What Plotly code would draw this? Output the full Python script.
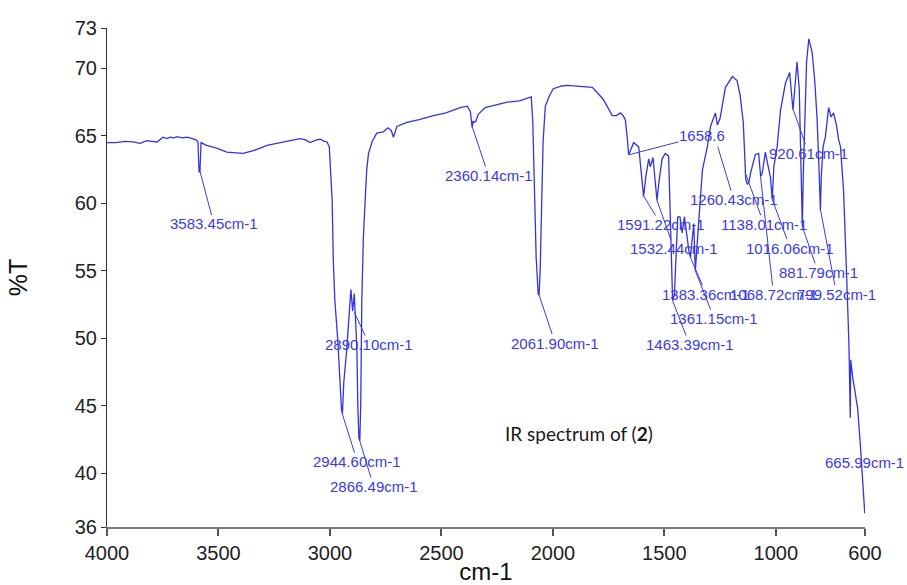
import plotly.graph_objects as go

# ---------------- data ----------------
wavenumber = [
    4000, 3960, 3920, 3883, 3852, 3821, 3800, 3776, 3749, 3730, 3717, 3700, 3686, 3663, 3640,
    3614, 3600, 3592, 3587, 3583, 3578, 3553, 3508, 3463, 3420, 3389, 3344, 3282, 3250, 3210,
    3170, 3134, 3110, 3089, 3060, 3044, 3025, 3013, 3003, 2997, 2990, 2985, 2978, 2965, 2955,
    2948, 2944, 2938, 2925, 2912, 2906, 2898, 2891, 2884, 2879, 2875, 2870, 2866, 2862, 2857,
    2850, 2842, 2835, 2827, 2810, 2790, 2760, 2740, 2725, 2715, 2700, 2655, 2600, 2535, 2480,
    2416, 2384, 2370, 2362, 2358, 2352, 2345, 2335, 2303, 2250, 2205, 2150, 2110, 2097, 2090,
    2083, 2075, 2066, 2062, 2057, 2050, 2044, 2034, 2015, 1998, 1960, 1935, 1880, 1823, 1800,
    1774, 1750, 1734, 1715, 1697, 1685, 1675, 1666, 1660, 1650, 1638, 1615, 1605, 1593, 1583,
    1570, 1563, 1551, 1542, 1533, 1525, 1510, 1496, 1481, 1475, 1468, 1463, 1455, 1448, 1440,
    1430, 1420, 1410, 1400, 1390, 1383, 1375, 1368, 1361, 1352, 1340, 1329, 1307, 1293, 1271,
    1262, 1250, 1226, 1195, 1174, 1160, 1146, 1140, 1135, 1128, 1120, 1114, 1092, 1077, 1068,
    1061, 1047, 1035, 1024, 1016, 1009, 994, 979, 957, 938, 923, 905, 895, 890, 884,
    881, 877, 870, 862, 852, 837, 825, 815, 806, 800, 796, 788, 778, 763, 752,
    741, 728, 718, 710, 696, 681, 672, 666, 664, 655, 633, 620, 601,
]
transmittance = [
    64.5, 64.5, 64.6, 64.55, 64.45, 64.65, 64.6, 64.55, 64.9, 64.8, 64.9, 64.85, 64.95, 64.85, 64.9,
    64.75, 64.7, 64.55, 62.3, 62.4, 64.5, 64.3, 64.1, 63.8, 63.75, 63.7, 63.9, 64.3, 64.4, 64.55,
    64.7, 64.8, 64.7, 64.5, 64.7, 64.75, 64.6, 64.55, 64.2, 62.0, 60.2, 55.8, 52.8, 49.9, 46.1,
    44.7, 44.4, 46.7, 49.1, 52.1, 53.6, 52.0, 53.3, 51.0, 49.1, 45.0, 42.6, 42.4, 45.0, 52.8,
    57.5, 60.2, 62.5, 63.7, 64.6, 65.2, 65.3, 65.6, 65.4, 64.9, 65.7, 66.0, 66.2, 66.5, 66.7,
    67.1, 67.2, 66.8, 65.6, 66.1, 66.0, 66.1, 66.6, 67.1, 67.3, 67.5, 67.6, 67.8, 67.9, 66.0,
    61.0, 56.0, 53.3, 53.2, 55.0, 60.0, 64.5, 67.2, 68.0, 68.5, 68.7, 68.75, 68.7, 68.6, 68.2,
    67.7, 67.0, 66.5, 66.5, 66.7, 66.5, 66.2, 64.8, 63.6, 64.0, 64.5, 64.2, 62.5, 60.5, 62.0,
    63.3, 62.7, 63.4, 61.8, 60.2, 61.5, 63.3, 63.7, 63.5, 60.0, 55.5, 52.8, 53.2, 56.5, 59.0,
    59.0, 57.8, 59.0, 57.5, 56.5, 56.0, 57.5, 58.5, 55.0, 57.5, 60.0, 62.5, 64.2, 65.7, 66.7,
    65.8, 66.3, 68.6, 69.4, 69.1, 68.0, 66.0, 62.8, 61.8, 61.4, 61.6, 62.2, 63.6, 63.7, 62.0,
    62.2, 63.8, 62.8, 61.9, 60.3, 62.7, 64.2, 66.9, 68.9, 69.7, 66.9, 70.5, 68.5, 65.5, 60.0,
    58.3, 62.0, 67.0, 70.5, 72.2, 71.2, 69.0, 66.3, 62.5, 59.5, 62.0, 64.2, 64.9, 67.1, 66.4,
    66.7, 65.8, 64.7, 64.2, 60.9, 54.0, 49.5, 44.1, 48.4, 47.1, 44.8, 41.9, 37.0,
]

peak_labels = [
    "3583.45cm-1", "2360.14cm-1", "2890.10cm-1", "2944.60cm-1", "2866.49cm-1",
    "2061.90cm-1", "1658.6", "920.61cm-1", "1260.43cm-1", "1591.22cm-1",
    "1532.44cm-1", "1138.01cm-1", "1016.06cm-1", "881.79cm-1", "1383.36cm-1",
    "1068.72cm-1", "799.52cm-1", "1361.15cm-1", "1463.39cm-1", "665.99cm-1",
]
peak_wn = [
    3583.45, 2360.14, 2890.10, 2944.60, 2866.49,
    2061.90, 1658.6, 920.61, 1260.43, 1591.22,
    1532.44, 1138.01, 1016.06, 881.79, 1383.36,
    1068.72, 799.52, 1361.15, 1463.39, 665.99,
]
peak_T = [
    62.4, 65.6, 51.9, 44.4, 42.4,
    53.2, 63.6, 66.9, 64.2, 60.5,
    60.2, 62.3, 60.3, 58.3, 56.0,
    62.0, 59.5, 55.0, 52.8, 44.1,
]

y_ticks = [36, 40, 45, 50, 55, 60, 65, 70, 73]
x_ticks = [4000, 3500, 3000, 2500, 2000, 1500, 1000, 600]

# label offsets (pixels) from each peak
label_dx = [14, 16, 15, 15, 14, 16, 73, 15, 16, 17, 17, 19, 18, 16, 16, 13, 16, 19, 17, 14]
label_dy = [53, 48, 32, 48, 46, 48, -19, 43, 53, 28, 48, 52, 49, 46, 37, 118, 84, 48, 44, 45]

# ---------------- figure ----------------
LINE_BLUE = "rgb(52,52,222)"
TEXT_BLUE = "rgb(58,58,228)"

fig = go.Figure()
fig.add_trace(go.Scatter(
    x=wavenumber, y=transmittance, mode="lines",
    line=dict(color=LINE_BLUE, width=1.3),
    hoverinfo="skip", showlegend=False,
))

for lab, wn, t, dx, dy in zip(peak_labels, peak_wn, peak_T, label_dx, label_dy):
    fig.add_annotation(
        x=wn, y=t, text=lab, showarrow=True, arrowhead=0, arrowwidth=1,
        arrowcolor=TEXT_BLUE, standoff=0, ax=dx, ay=dy, borderpad=0,
        font=dict(family="Liberation Sans, Arial, sans-serif", size=15, color=TEXT_BLUE),
    )

fig.add_annotation(
    x=1881, y=42.9, text="IR spectrum of (<b>2</b>)", showarrow=False,
    font=dict(family="Lato, Carlito, sans-serif", size=19, color="#1a1a1a"),
)

fig.update_layout(
    width=907, height=585, autosize=False,
    margin=dict(l=107, r=42, t=28, b=58),
    paper_bgcolor="white", plot_bgcolor="white",
    font=dict(family="Liberation Sans, Arial, sans-serif", color="#222222"),
    xaxis=dict(
        range=[4000, 600], tickvals=x_ticks, ticktext=[str(v) for v in x_ticks],
        automargin=False,
        showgrid=False, zeroline=False, showline=True, linecolor="#777777", linewidth=2,
        ticks="outside", ticklen=7, tickcolor="#555555", tickwidth=1.5,
        tickfont=dict(size=20, color="#222222"),
        title=dict(text="cm-1", font=dict(size=24, color="#111111"), standoff=0),
    ),
    yaxis=dict(
        range=[36, 73], tickvals=y_ticks, ticktext=[str(v) for v in y_ticks],
        automargin=False,
        showgrid=False, zeroline=False, showline=True, linecolor="#333333", linewidth=1,
        ticks="outside", ticklen=5, tickcolor="#333333",
        tickfont=dict(size=20, color="#222222"),
        title=dict(text="%T", font=dict(size=25, color="#111111"), standoff=40),
    ),
)

fig.write_html("out.html")
